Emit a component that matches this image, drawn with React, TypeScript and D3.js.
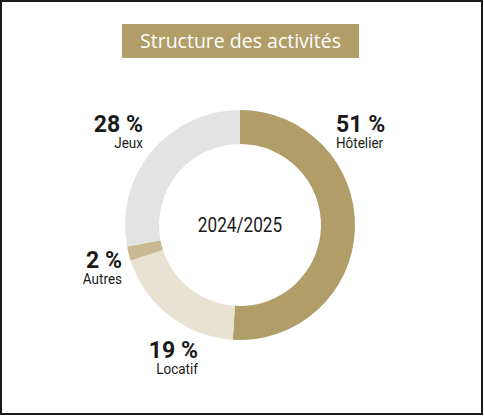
import { useEffect, useRef } from "react";
import * as d3 from "d3";

const categories = ["Hôtelier", "Locatif", "Autres", "Jeux"];
const shares = [51, 19, 2, 28];
const colors = ["#b09d68", "#e8e2d3", "#c8b991", "#e3e3e3"];
const centerLabel = "2024/2025";
const title = "Structure des activités";

// label anchors (layout only), index-aligned with categories
const labelLayout = [
  { x: 336, y: 132, anchor: "start" },
  { x: 198, y: 358, anchor: "end" },
  { x: 122, y: 268, anchor: "end" },
  { x: 143, y: 132, anchor: "end" },
];

const FONT = "Roboto, 'Noto Sans', sans-serif";

export default function App() {
  const ref = useRef<SVGSVGElement | null>(null);

  useEffect(() => {
    if (!ref.current) return;
    const width = 484;
    const height = 419;
    const cx = 240;
    const cy = 225;

    const svg = d3.select(ref.current);
    svg.selectAll("*").remove();
    svg.attr("width", width).attr("height", height).attr("viewBox", `0 0 ${width} ${height}`);

    svg
      .append("rect")
      .attr("x", 1)
      .attr("y", 1)
      .attr("width", 481)
      .attr("height", 413)
      .attr("fill", "#fff")
      .attr("stroke", "#1a1a1a")
      .attr("stroke-width", 2);

    // title box
    svg
      .append("rect")
      .attr("x", 122)
      .attr("y", 24)
      .attr("width", 237)
      .attr("height", 34)
      .attr("fill", "#b09d68");
    svg
      .append("text")
      .attr("x", 240.5)
      .attr("y", 48)
      .attr("text-anchor", "middle")
      .attr("font-family", "'Open Sans', sans-serif")
      .attr("font-size", 19.5)
      .attr("fill", "#fff")
      .text(title);

    const data = categories.map((c, i) => ({ name: c, value: shares[i], color: colors[i] }));
    const pie = d3
      .pie<(typeof data)[number]>()
      .value((d) => d.value)
      .sort(null);
    const arc = d3
      .arc<d3.PieArcDatum<(typeof data)[number]>>()
      .innerRadius(81)
      .outerRadius(115);

    const g = svg.append("g").attr("transform", `translate(${cx},${cy})`);
    g.selectAll("path")
      .data(pie(data))
      .join("path")
      .attr("d", arc)
      .attr("fill", (d) => d.data.color);

    svg
      .append("text")
      .attr("transform", `translate(${cx},232) scale(0.86,1)`)
      .attr("text-anchor", "middle")
      .attr("font-family", FONT)
      .attr("font-size", 20)
      .attr("fill", "#1a1a1a")
      .text(centerLabel);

    const labels = svg
      .append("g")
      .selectAll("g")
      .data(data)
      .join("g")
      .attr("transform", (_, i) => `translate(${labelLayout[i].x},${labelLayout[i].y})`);
    labels
      .append("text")
      .attr("transform", "scale(0.96,1)")
      .attr("text-anchor", (_, i) => labelLayout[i].anchor)
      .attr("font-family", FONT)
      .attr("font-weight", "bold")
      .attr("font-size", 24)
      .attr("fill", "#1a1a1a")
      .text((d) => `${d.value} %`);
    labels
      .append("text")
      .attr("transform", "translate(0,15.5) scale(0.9,1)")
      .attr("text-anchor", (_, i) => labelLayout[i].anchor)
      .attr("font-family", FONT)
      .attr("font-size", 15)
      .attr("fill", "#1a1a1a")
      .text((d) => d.name);
  }, []);

  return (
    <svg
      ref={ref}
      style={{ position: "absolute", left: 0, top: 0, display: "block" }}
      role="img"
      aria-label="Structure des activités"
    />
  );
}
